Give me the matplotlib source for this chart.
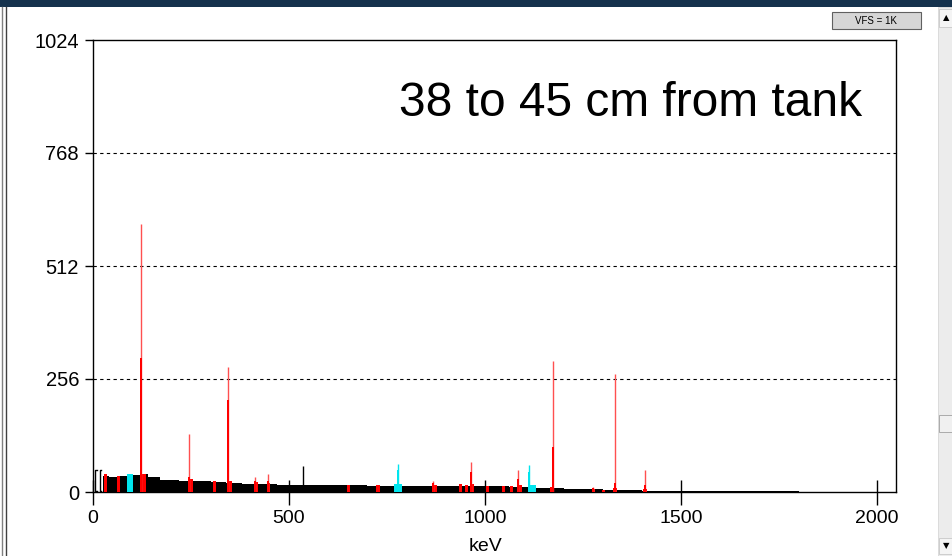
import numpy as np
import matplotlib
matplotlib.use("Agg")
import matplotlib.pyplot as plt
from matplotlib.patches import Rectangle

plt.rcParams['font.family'] = ['Liberation Sans', 'DejaVu Sans']

# continuum (step levels, counts) between energy edges in keV
cont_edges = [0, 25, 40, 60, 80, 100, 120, 140, 170, 220, 260, 300, 340, 380, 420,
              470, 520, 600, 700, 800, 900, 1000, 1060, 1130, 1160, 1200, 1300,
              1400, 1500, 1600, 1800, 1960, 2048]
cont_levels = [0, 36, 34, 37, 36, 38, 40, 33, 28, 25, 24, 22, 21, 19, 17,
               16, 15, 15, 14, 14, 14, 13, 12, 10, 8, 6, 4, 3, 3, 2, 1, 0]

# ROI bands (keV lo, keV hi, height, colour)
roi_lo = [28, 61, 87, 122, 245, 306, 344, 413, 444, 648, 722, 768, 865, 934, 950, 964,
          1003, 1043, 1064, 1082, 1110, 1166, 1273, 1298, 1327, 1403]
roi_hi = [36, 69, 102, 135, 255, 314, 355, 421, 452, 656, 732, 788, 877, 942, 957, 972,
          1010, 1051, 1071, 1094, 1130, 1176, 1281, 1306, 1337, 1413]
roi_h = [40, 37, 40, 40, 30, 24, 25, 22, 20, 15, 15, 17, 16, 17, 16, 18,
         14, 14, 14, 16, 16, 12, 6, 5, 8, 7]
roi_col = ['r', 'r', 'c', 'r', 'r', 'r', 'r', 'r', 'r', 'r', 'r', 'c', 'r', 'r', 'r', 'r',
           'r', 'r', 'r', 'r', 'c', 'r', 'r', 'r', 'r', 'r']

# peaks: energy, thick core height, thin tip height, colour
pk_e = [122, 245, 344, 413, 446, 779, 867, 964, 1085, 1112, 1173, 1275, 1332, 1408, 535]
pk_core = [304, 35, 209, 25, 25, 50, 20, 45, 30, 45, 101, 10, 20, 15, 0]
pk_tip = [608, 131, 283, 33, 40, 64, 26, 67, 49, 61, 297, 12, 268, 49, 58]
pk_col = ['r', 'r', 'r', 'r', 'r', 'c', 'r', 'r', 'r', 'c', 'r', 'r', 'r', 'r', 'k']

colors = {'r': '#ff0000', 'c': '#00e5ee', 'k': '#000000'}

W, H = 953, 556
fig = plt.figure(figsize=(W / 100, H / 100), dpi=100)
fig.patch.set_facecolor('white')


def px(x0, y0, x1, y1):
    # pixel box (top-left origin) -> figure fractions
    return x0 / W, 1 - y1 / H, (x1 - x0) / W, (y1 - y0) / H


ax = fig.add_axes(px(93, 40, 896, 492))
ax.set_xlim(0, 2048)
ax.set_ylim(0, 1024)

ax.stairs(cont_levels, cont_edges, fill=True, color='black', lw=0)
for lo, hi, h, c in zip(roi_lo, roi_hi, roi_h, roi_col):
    ax.bar(lo, h, width=hi - lo, align='edge', color=colors[c], lw=0, zorder=3)
for e, core, tip, c in zip(pk_e, pk_core, pk_tip, pk_col):
    lc = '#ff5050' if c == 'r' else colors[c]
    ax.vlines(e, 0, tip, color=lc, lw=1.0, zorder=4)
    if core > 0:
        ax.bar(e, core, width=5, color=colors[c], lw=0, zorder=5)

# ROI bracket markers near the origin
for xb in [6, 17]:
    ax.plot([xb + 4, xb, xb, xb + 4], [50, 50, 2, 2], color='black', lw=1,
            clip_on=False, zorder=6)

for v in [256, 512, 768]:
    ax.axhline(v, color='black', lw=0.8, ls=(0, (3, 3)), zorder=1)

ax.set_xticks([0, 500, 1000, 1500, 2000])
ax.set_yticks([0, 256, 512, 768, 1024])
ax.tick_params(axis='x', direction='inout', length=18, width=1, labelsize=14, pad=4)
ax.tick_params(axis='y', direction='out', length=6, width=1, labelsize=14.5, pad=4)
for s in ax.spines.values():
    s.set_linewidth(1)
ax.set_xlabel('keV', fontsize=14)
ax.xaxis.set_label_coords(0.489, -0.102)

ax.text(0.958, 0.832, '38 to 45 cm from tank', transform=ax.transAxes,
        ha='right', va='baseline', fontsize=34.5)

# window chrome
fig.add_artist(Rectangle(px(0, 0, W, 7)[:2], px(0, 0, W, 7)[2], px(0, 0, W, 7)[3],
                         transform=fig.transFigure, color='#15324d', lw=0))
for xl, cl in [(2, '#808080'), (6, '#404040')]:
    fig.add_artist(plt.Line2D([xl / W, xl / W], [0, 1 - 7 / H], transform=fig.transFigure,
                              color=cl, lw=1))
b = px(938, 7, W, H)
fig.add_artist(Rectangle(b[:2], b[2], b[3], transform=fig.transFigure,
                         facecolor='#ececec', edgecolor='#d0d0d0', lw=0.5))
for y0, y1, mark in [(9, 27, '▲'), (538, 554, '▼')]:
    bb = px(939, y0, W - 1, y1)
    fig.add_artist(Rectangle(bb[:2], bb[2], bb[3], transform=fig.transFigure,
                             facecolor='#f4f4f4', edgecolor='#c0c0c0', lw=0.5))
    fig.text(946 / W, 1 - (y0 + y1) / 2 / H, mark, fontsize=6, ha='center', va='center',
             family=['DejaVu Sans'])
bb = px(939, 415, W - 1, 432)
fig.add_artist(Rectangle(bb[:2], bb[2], bb[3], transform=fig.transFigure,
                         facecolor='#f0f0f0', edgecolor='#a0a0a0', lw=0.6))
bb = px(832, 12, 921, 29)
fig.add_artist(Rectangle(bb[:2], bb[2], bb[3], transform=fig.transFigure,
                         facecolor='#d6d6d6', edgecolor='#606060', lw=0.8))
fig.text(876 / W, 1 - 20.5 / H, 'VFS = 1K', fontsize=7, ha='center', va='center')

fig.savefig('out.png', dpi=100)
